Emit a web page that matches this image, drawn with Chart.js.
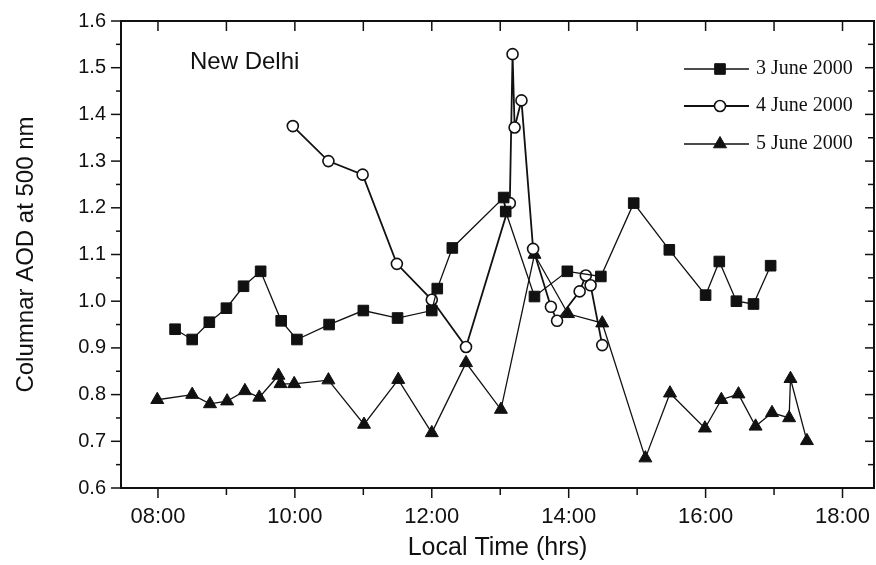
<!DOCTYPE html>
<html>
<head>
<meta charset="utf-8">
<script src="https://cdn.jsdelivr.net/npm/chart.js@4.4.1/dist/chart.umd.min.js"></script>
<style>
  html, body { margin: 0; padding: 0; background: #fff; }
</style>
</head>
<body>
<canvas id="myChart" width="876" height="565"></canvas>
<script>
// local time in decimal hours, AOD at 500 nm
const june3Time = [8.25, 8.5, 8.75, 9.0, 9.25, 9.5, 9.8, 10.03, 10.5, 11.0, 11.5, 12.0, 12.08, 12.3, 13.05, 13.08, 13.5, 13.98, 14.47, 14.95, 15.47, 16.0, 16.2, 16.45, 16.7, 16.95];
const june3AOD  = [0.940, 0.918, 0.955, 0.985, 1.032, 1.064, 0.958, 0.918, 0.950, 0.980, 0.964, 0.980, 1.027, 1.114, 1.222, 1.192, 1.010, 1.064, 1.053, 1.210, 1.110, 1.013, 1.085, 1.000, 0.994, 1.076];

const june4Time = [9.97, 10.49, 10.99, 11.49, 12.0, 12.5, 13.14, 13.18, 13.21, 13.31, 13.48, 13.74, 13.83, 14.16, 14.25, 14.32, 14.49];
const june4AOD  = [1.375, 1.300, 1.271, 1.080, 1.003, 0.902, 1.210, 1.529, 1.372, 1.430, 1.112, 0.988, 0.958, 1.021, 1.055, 1.034, 0.906];

const june5Time = [7.99, 8.5, 8.76, 9.01, 9.27, 9.48, 9.76, 9.79, 9.99, 10.49, 11.01, 11.51, 12.0, 12.5, 13.01, 13.5, 13.99, 14.49, 15.12, 15.48, 15.99, 16.23, 16.48, 16.73, 16.97, 17.22, 17.24, 17.48];
const june5AOD  = [0.789, 0.800, 0.780, 0.786, 0.808, 0.794, 0.841, 0.823, 0.823, 0.831, 0.736, 0.832, 0.718, 0.868, 0.768, 1.100, 0.973, 0.953, 0.664, 0.803, 0.728, 0.789, 0.801, 0.732, 0.761, 0.750, 0.834, 0.701];

const seriesLabels = ['3 June 2000', '4 June 2000', '5 June 2000'];
const xTickHours = [8, 10, 12, 14, 16, 18];
const yTickValues = [0.6, 0.7, 0.8, 0.9, 1.0, 1.1, 1.2, 1.3, 1.4, 1.5, 1.6];

const SANS = '"Liberation Sans", Arial, Helvetica, sans-serif';
const SERIF = '"Liberation Serif", "Times New Roman", serif';

function toPoints(xs, ys) {
  return xs.map((t, i) => ({ x: t, y: ys[i] }));
}

const data = {
  datasets: [
    {
      label: seriesLabels[0],
      data: toPoints(june3Time, june3AOD),
      borderColor: '#111',
      borderWidth: 1.3,
      pointStyle: 'rect',
      pointRadius: 7.5,
      pointBorderWidth: 1,
      pointBackgroundColor: '#111',
      pointBorderColor: '#111'
    },
    {
      label: seriesLabels[1],
      data: toPoints(june4Time, june4AOD),
      borderColor: '#111',
      borderWidth: 1.8,
      pointStyle: 'circle',
      pointRadius: 5.5,
      pointBorderWidth: 1.6,
      pointBackgroundColor: '#fff',
      pointBorderColor: '#111'
    },
    {
      label: seriesLabels[2],
      data: toPoints(june5Time, june5AOD),
      borderColor: '#111',
      borderWidth: 1.3,
      pointStyle: 'triangle',
      pointRadius: 7.5,
      pointBorderWidth: 1,
      pointBackgroundColor: '#111',
      pointBorderColor: '#111'
    }
  ]
};

function strokeLine(ctx, x1, y1, x2, y2) {
  ctx.beginPath();
  ctx.moveTo(x1, y1);
  ctx.lineTo(x2, y2);
  ctx.stroke();
}

function drawMarker(ctx, style, x, y, r, fill) {
  ctx.beginPath();
  if (style === 'rect') {
    const s = r * Math.SQRT1_2;
    ctx.rect(x - s, y - s, 2 * s, 2 * s);
  } else if (style === 'circle') {
    ctx.arc(x, y, r, 0, Math.PI * 2);
  } else {
    ctx.moveTo(x, y - r);
    ctx.lineTo(x + r * 0.866, y + r / 2);
    ctx.lineTo(x - r * 0.866, y + r / 2);
    ctx.closePath();
  }
  ctx.fillStyle = fill;
  ctx.fill();
  ctx.stroke();
}

// frame with inward ticks on top/right, outward on bottom/left
const frameTicks = {
  id: 'frameTicks',
  afterDatasetsDraw(chart) {
    const { ctx, chartArea: a, scales: { x, y } } = chart;
    ctx.save();
    ctx.strokeStyle = '#111';
    ctx.lineWidth = 1.5;
    for (let h = 8; h <= 18; h++) {
      const px = x.getPixelForValue(h);
      strokeLine(ctx, px, a.bottom, px, a.bottom + (h % 2 === 0 ? 10 : 7));
      strokeLine(ctx, px, a.top, px, a.top + 10);
    }
    for (let i = 12; i <= 32; i++) {
      const py = y.getPixelForValue(i / 20);
      const major = i % 2 === 0;
      strokeLine(ctx, a.left - (major ? 10 : 5), py, a.left, py);
      strokeLine(ctx, a.right - (major ? 9 : 6), py, a.right, py);
    }
    ctx.lineWidth = 2;
    ctx.strokeRect(a.left, a.top, a.right - a.left, a.bottom - a.top);
    ctx.restore();
  }
};

// station name and the in-plot legend
const annotations = {
  id: 'annotations',
  afterDraw(chart) {
    const ctx = chart.ctx;
    ctx.save();
    ctx.fillStyle = '#111';
    ctx.font = '24px ' + SANS;
    ctx.textBaseline = 'alphabetic';
    ctx.textAlign = 'left';
    ctx.fillText('New Delhi', 190, 69);

    const rows = [69, 106, 144];
    chart.data.datasets.forEach((ds, i) => {
      const yy = rows[i];
      ctx.strokeStyle = '#111';
      ctx.lineWidth = ds.borderWidth;
      strokeLine(ctx, 684, yy, 749, yy);
      ctx.lineWidth = ds.pointBorderWidth;
      drawMarker(ctx, ds.pointStyle, 720, yy, ds.pointRadius, ds.pointBackgroundColor);
      ctx.fillStyle = '#111';
      ctx.font = '20px ' + SERIF;
      ctx.textBaseline = 'middle';
      ctx.fillText(ds.label, 756, yy);
    });
    ctx.restore();
  }
};

const config = {
  type: 'line',
  data: data,
  options: {
    responsive: false,
    animation: false,
    devicePixelRatio: 1,
    layout: { autoPadding: false, padding: { top: 21, right: 2, left: 0, bottom: 0 } },
    plugins: {
      legend: { display: false },
      tooltip: { enabled: false }
    },
    scales: {
      x: {
        type: 'linear',
        min: 7.46,
        max: 18.46,
        afterBuildTicks: axis => { axis.ticks = xTickHours.map(v => ({ value: v })); },
        afterFit: axis => {
          axis.height = 77;
          axis.paddingLeft = 0;
          axis.paddingRight = 0;
        },
        grid: { display: false, drawTicks: false },
        border: { display: false },
        ticks: {
          color: '#111',
          font: { family: SANS, size: 22 },
          padding: 16,
          maxRotation: 0,
          autoSkip: false,
          callback: v => (v < 10 ? '0' : '') + v + ':00'
        },
        title: {
          display: true,
          text: 'Local Time (hrs)',
          color: '#111',
          font: { family: SANS, size: 25 },
          padding: { top: 0, bottom: 2 }
        }
      },
      y: {
        min: 0.6,
        max: 1.6,
        afterBuildTicks: axis => { axis.ticks = yTickValues.map(v => ({ value: v })); },
        afterFit: axis => {
          axis.width = 121;
          axis.paddingTop = 0;
          axis.paddingBottom = 0;
        },
        grid: { display: false, drawTicks: false },
        border: { display: false },
        ticks: {
          color: '#111',
          font: { family: SANS, size: 20 },
          padding: 15,
          callback: v => v.toFixed(1)
        },
        title: {
          display: true,
          text: 'Columnar AOD at 500 nm',
          color: '#111',
          font: { family: SANS, size: 24 },
          padding: { top: 12, bottom: 0 }
        }
      }
    }
  },
  plugins: [frameTicks, annotations]
};

const myChart = new Chart(document.getElementById('myChart'), config);
</script>
</body>
</html>
